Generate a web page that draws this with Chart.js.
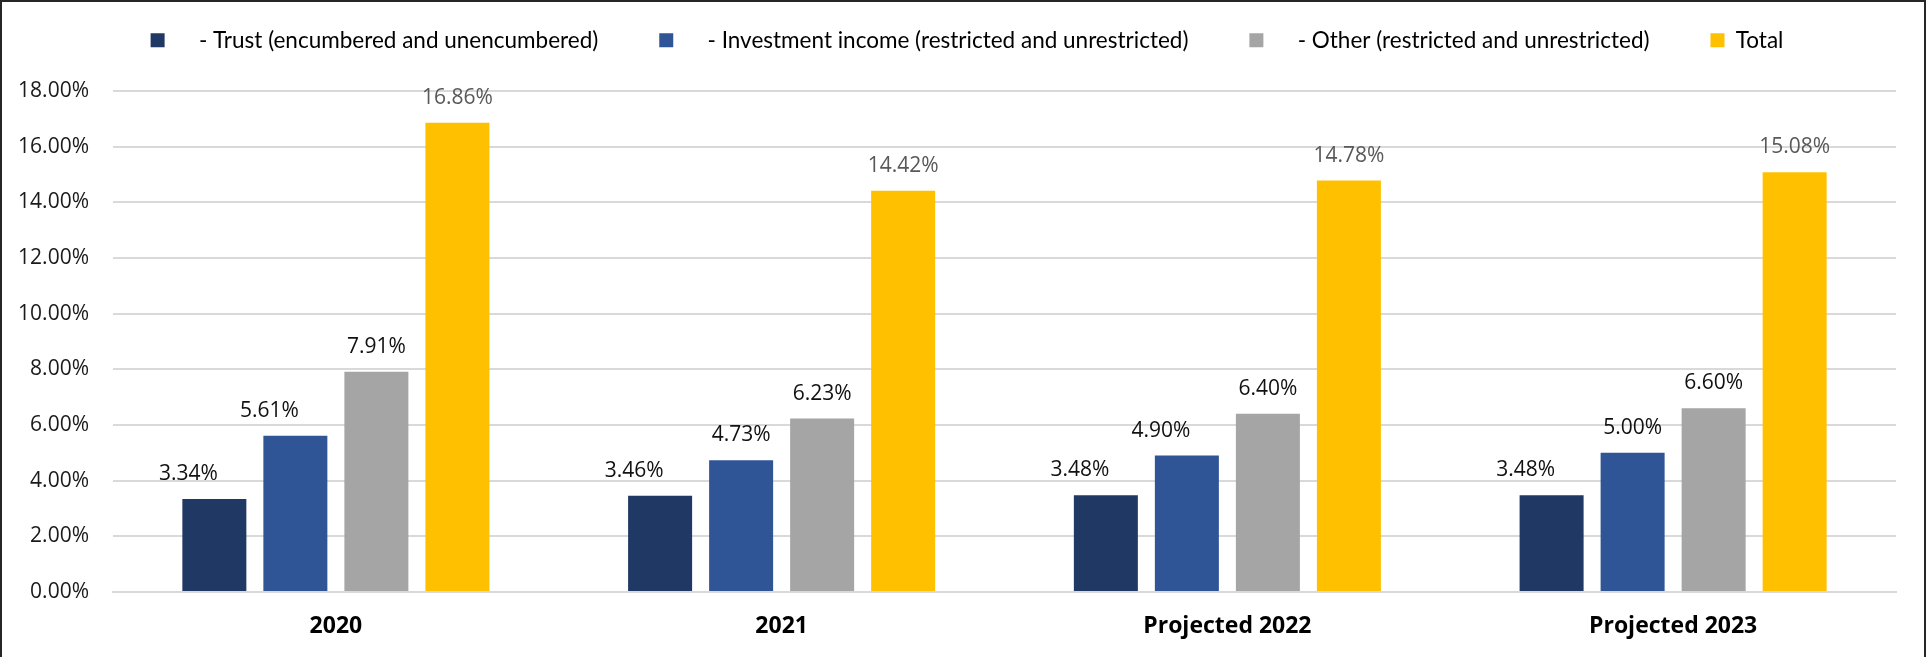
<!DOCTYPE html>
<html lang="en">
<head>
  <meta charset="UTF-8">
  <title>Income ratios</title>
  <style>
    html, body { margin: 0; padding: 0; background: #fff; overflow: hidden; }
    .frame { position: absolute; left: 0; top: 0; width: 1926px; height: 720px; box-sizing: border-box; border: 2px solid #262626; }
    .box { position: absolute; left: 2px; top: 2px; width: 1922px; height: 655px; }
  </style>
</head>
<body>
  <div class="frame"></div>
  <div class="box"><canvas id="grafico"></canvas></div>

  <script src="https://cdn.jsdelivr.net/npm/chart.js"></script>
  <script>
    // Dados
    const anos = ['2020', '2021', 'Projected 2022', 'Projected 2023'];
    const trust = [3.34, 3.46, 3.48, 3.48];
    const investimento = [5.61, 4.73, 4.90, 5.00];
    const outros = [7.91, 6.23, 6.40, 6.60];
    const total = [16.86, 14.42, 14.78, 15.08];
    const ticksY = [0, 2, 4, 6, 8, 10, 12, 14, 16, 18];

    const nomes = [
      '    - Trust (encumbered and unencumbered)',
      '    - Investment income (restricted and unrestricted)',
      '    - Other (restricted and unrestricted)',
      'Total'
    ];
    const cores = ['#203864', '#2F5597', '#A5A5A5', '#FFC000'];
    const coresRotulo = ['#111', '#111', '#111', '#595959'];
    // alguns rótulos foram arrastados para a esquerda no original
    const desvioRotulo = [[-26, -26, -26, -26], [-26, 0, -26, 0], [0, 0, 0, 0], [0, 0, 0, 0]];

    const FONTE = "'Open Sans', sans-serif";
    const CENTRO_LEGENDA = 965;

    // rótulos de valor acima das barras
    const rotulos = {
      id: 'rotulos',
      afterDatasetsDraw(chart) {
        const ctx = chart.ctx;
        ctx.save();
        ctx.font = '21px ' + FONTE;
        ctx.textAlign = 'center';
        ctx.textBaseline = 'middle';
        chart.data.datasets.forEach((ds, i) => {
          const meta = chart.getDatasetMeta(i);
          ctx.fillStyle = coresRotulo[i];
          meta.data.forEach((bar, j) => {
            ctx.fillText(ds.data[j].toFixed(2) + '%', bar.x + desvioRotulo[i][j], bar.y - 25);
          });
        });
        ctx.restore();
      }
    };

    // legenda: sobe (padding grande por causa do espaçamento) e centraliza na página
    const posLegenda = {
      id: 'posLegenda',
      afterLayout(chart) {
        const leg = chart.legend;
        const d = CENTRO_LEGENDA - (leg.left + leg.right) / 2;
        leg.left += d;
        leg.right += d;
        leg.top -= 34;
      }
    };

    const ctx = document.getElementById('grafico').getContext('2d');
    new Chart(ctx, {
      type: 'bar',
      data: {
        labels: anos,
        datasets: [trust, investimento, outros, total].map((d, i) => ({
          label: nomes[i],
          data: d,
          backgroundColor: cores[i],
          categoryPercentage: 0.727,
          barPercentage: 0.79
        }))
      },
      options: {
        responsive: true,
        maintainAspectRatio: false,
        animation: false,
        layout: { padding: { left: 0, right: 28, top: 0, bottom: 0 } },
        plugins: {
          tooltip: { enabled: false },
          legend: {
            position: 'top',
            align: 'center',
            maxHeight: 89,
            labels: {
              boxWidth: 14,
              boxHeight: 14,
              padding: 61,
              color: '#000',
              font: { family: "Lato, sans-serif", size: 22.5 }
            }
          }
        },
        scales: {
          x: {
            grid: { display: false, drawTicks: false },
            border: { color: '#d9d9d9', width: 2 },
            ticks: { color: '#000', padding: 21, font: { family: FONTE, size: 23, weight: 'bold' } },
            afterFit: s => { s.height = 65; }
          },
          y: {
            min: 0,
            max: 18,
            afterBuildTicks: s => { s.ticks = ticksY.map(v => ({ value: v })); },
            grid: { color: '#d9d9d9', lineWidth: 2, drawTicks: false },
            border: { display: false },
            ticks: {
              color: '#1a1a1a',
              padding: 24,
              font: { family: FONTE, size: 21 },
              callback: v => v.toFixed(2) + '%'
            },
            afterFit: s => { s.width = 111; }
          }
        }
      },
      plugins: [rotulos, posLegenda]
    });
  </script>
</body>
</html>
